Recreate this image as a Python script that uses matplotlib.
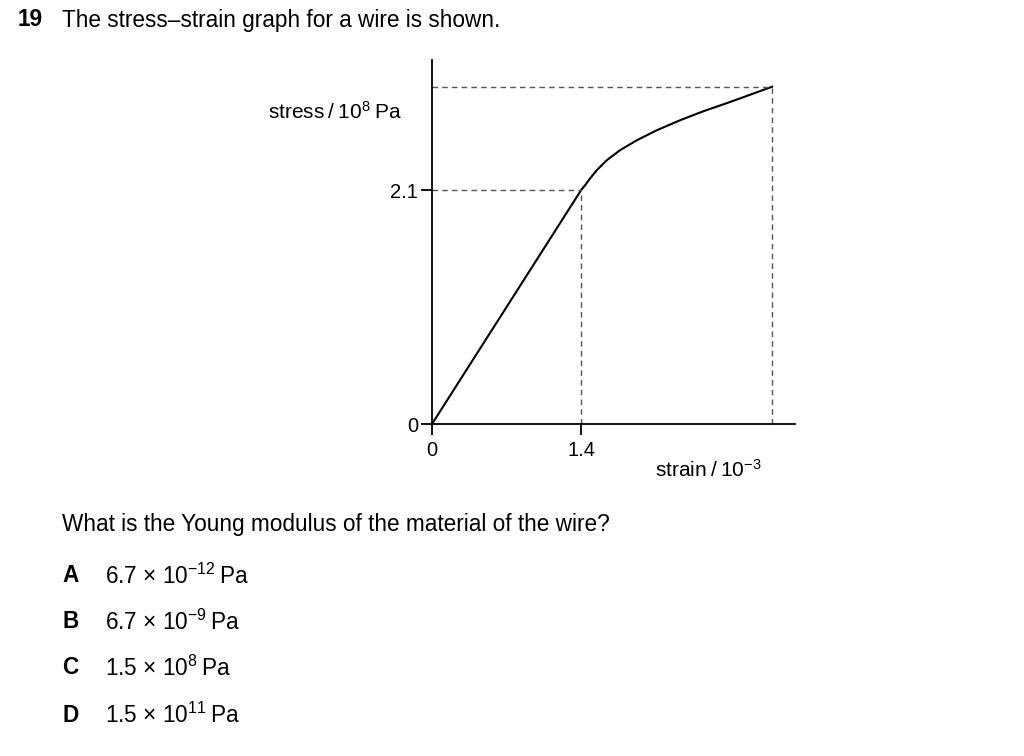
import matplotlib.pyplot as plt

plt.rcParams["font.family"] = ["Liberation Sans", "DejaVu Sans"]
plt.rcParams["mathtext.fontset"] = "custom"
plt.rcParams["mathtext.rm"] = "Liberation Sans"
plt.rcParams["mathtext.it"] = "Liberation Sans:italic"

# points (strain / 10^-3, stress / 10^8 Pa)
strain = [0, 1.4, 1.438, 1.485, 1.548, 1.642, 1.767, 1.924, 2.112,
          2.331, 2.550, 2.801, 3.020, 3.195]
stress = [0, 2.1, 2.145, 2.206, 2.280, 2.370, 2.460, 2.549, 2.639,
          2.729, 2.810, 2.893, 2.969, 3.030]

tick_x = [0, 1.4]
tick_x_labels = ["0", "1.4"]
tick_y = [0, 2.1]
tick_y_labels = ["0", "2.1"]

options = ["A", "B", "C", "D"]
answers = [
    r"6.7 × $\mathregular{10^{-12}}$ Pa",
    r"6.7 × $\mathregular{10^{-9}}$ Pa",
    r"1.5 × $\mathregular{10^{8}}$ Pa",
    r"1.5 × $\mathregular{10^{11}}$ Pa",
]

fig = plt.figure(figsize=(10.24, 7.56), dpi=100)
ax = fig.add_axes([432 / 1024, 1 - 424 / 756, 363 / 1024, 364 / 756])

ax.plot(strain, stress, color="black", lw=1.5, clip_on=False)

# dashed guide lines to the limit of proportionality and to the end point
dash = dict(color="#555555", lw=1, dashes=(4, 3), clip_on=False)
ax.plot([0, strain[1]], [stress[1], stress[1]], **dash)
ax.plot([strain[1], strain[1]], [0, stress[1]], **dash)
ax.plot([0, strain[-1]], [stress[-1], stress[-1]], **dash)
ax.plot([strain[-1], strain[-1]], [0, stress[-1]], **dash)

ax.set_xlim(0, 3.41)
ax.set_ylim(0, 3.27)
ax.spines["top"].set_visible(False)
ax.spines["right"].set_visible(False)
for s in ["left", "bottom"]:
    ax.spines[s].set_linewidth(1.3)

ax.set_xticks(tick_x)
ax.set_xticklabels(tick_x_labels)
ax.set_yticks(tick_y)
ax.set_yticklabels(tick_y_labels)
ax.tick_params(direction="out", length=8, width=1.3, labelsize=14.5, pad=2)
ax.tick_params(axis="x", pad=4)

fig.text(402 / 1024, 1 - 112 / 756, "stress\u2009/\u2009$\\mathregular{10^{8}}$\u2009Pa",
         ha="right", va="center", fontsize=15)
fig.text(655 / 1024, 1 - 470 / 756, "strain\u2009/\u2009$\\mathregular{10^{-3}}$",
         ha="left", va="center", fontsize=15)

fig.text(18 / 1024, 1 - 20 / 756, "19", fontsize=16.3, fontweight="bold",
         ha="left", va="center")
fig.text(62 / 1024, 1 - 20 / 756, "The stress–strain graph for a wire is shown.",
         fontsize=16.3, ha="left", va="center")
fig.text(62 / 1024, 1 - 525 / 756, "What is the Young modulus of the material of the wire?",
         fontsize=16.3, ha="left", va="center")

ys = [576, 622, 668, 715]
for letter, ans, y in zip(options, answers, ys):
    fig.text(62 / 1024, 1 - y / 756, letter, fontsize=16.3, fontweight="bold",
             ha="left", va="center")
    fig.text(105 / 1024, 1 - y / 756, ans.replace(" Pa", "\u2009Pa"),
             fontsize=16.3, ha="left", va="center")

fig.savefig("out.png", dpi=100)
